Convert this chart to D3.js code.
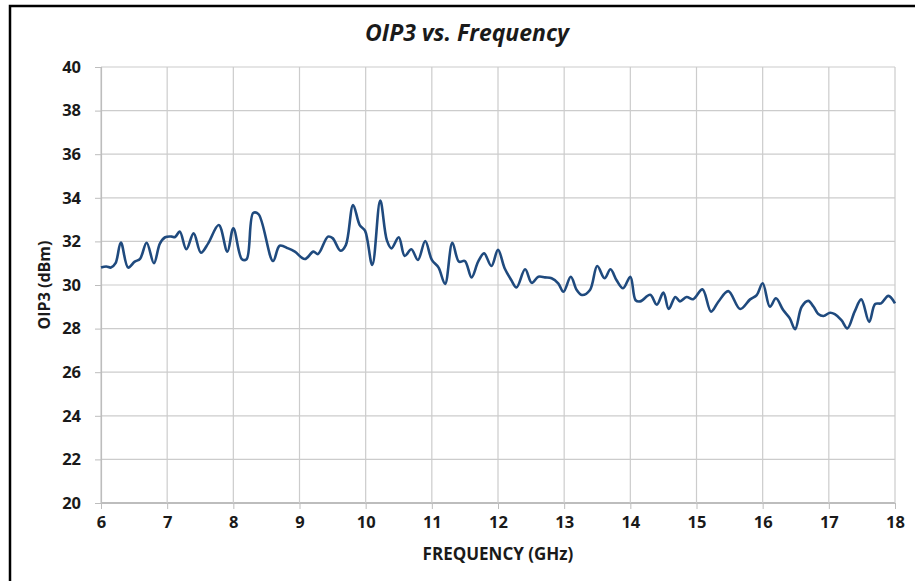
<!DOCTYPE html>
<html>
<head>
<meta charset="utf-8">
<script src="https://cdn.jsdelivr.net/npm/d3@7"></script>
<style>
  body { margin: 0; background: #fff; }
  svg { display: block; }
  .tick text { font-family: "Open Sans", sans-serif; font-weight: bold; font-size: 16.5px; fill: #1a1a1a; }
</style>
</head>
<body>
<div id="chart"></div>
<script>
var frequency = [
  6.00, 6.08, 6.15, 6.22, 6.30, 6.41, 6.51, 6.59, 6.69, 6.80, 6.89, 6.97,
  7.07, 7.12, 7.19, 7.29, 7.40, 7.51, 7.62, 7.78, 7.91, 8.00, 8.13, 8.20,
  8.30, 8.38, 8.60, 8.70, 8.83, 8.93, 9.08, 9.21, 9.28, 9.43, 9.50, 9.62,
  9.70, 9.81, 9.91, 9.99, 10.10, 10.22, 10.32, 10.39, 10.50, 10.59, 10.69,
  10.79, 10.90, 11.00, 11.10, 11.20, 11.31, 11.41, 11.50, 11.60, 11.70,
  11.79, 11.90, 12.00, 12.10, 12.20, 12.28, 12.41, 12.51, 12.61, 12.71,
  12.81, 12.91, 12.99, 13.10, 13.19, 13.27, 13.39, 13.50, 13.61, 13.70,
  13.79, 13.89, 14.00, 14.08, 14.15, 14.30, 14.40, 14.50, 14.58, 14.68,
  14.75, 14.85, 14.95, 15.09, 15.22, 15.33, 15.48, 15.66, 15.81, 15.91,
  16.00, 16.11, 16.20, 16.31, 16.41, 16.49, 16.59, 16.69, 16.77, 16.84,
  16.92, 17.02, 17.09, 17.19, 17.28, 17.39, 17.49, 17.61, 17.70, 17.79,
  17.90, 18.00
];
var oip3 = [
  30.80, 30.85, 30.80, 31.00, 31.95, 30.80, 31.07, 31.20, 31.94, 31.00, 31.90, 32.19,
  32.22, 32.20, 32.45, 31.64, 32.37, 31.48, 31.91, 32.75, 31.53, 32.60, 31.18, 31.18,
  33.30, 33.25, 31.10, 31.80, 31.68, 31.53, 31.19, 31.53, 31.42, 32.22, 32.15, 31.57,
  31.83, 33.67, 32.75, 32.49, 30.92, 33.87, 32.06, 31.68, 32.19, 31.33, 31.64,
  31.15, 32.02, 31.15, 30.81, 30.05, 31.94, 31.07, 31.10, 30.35, 31.07,
  31.45, 30.87, 31.61, 30.77, 30.23, 29.89, 30.72, 30.10, 30.38, 30.35,
  30.31, 30.08, 29.69, 30.38, 29.77, 29.54, 29.77, 30.87, 30.31, 30.72,
  30.23, 29.85, 30.38, 29.30, 29.25, 29.55, 29.10, 29.65, 28.90, 29.45,
  29.25, 29.45, 29.35, 29.80, 28.78, 29.23, 29.72, 28.90, 29.34, 29.54,
  30.08, 29.00, 29.39, 28.85, 28.47, 27.97, 29.00, 29.27, 29.00, 28.67,
  28.58, 28.73, 28.66, 28.39, 28.01, 28.78, 29.34, 28.31, 29.13, 29.16,
  29.50, 29.16
];
var xTicks = [6, 7, 8, 9, 10, 11, 12, 13, 14, 15, 16, 17, 18];
var yTicks = [20, 22, 24, 26, 28, 30, 32, 34, 36, 38, 40];

var width = 915;
var height = 581;
var margin = { top: 67, right: 20, bottom: 78, left: 101 };
var plotRight = 895;

var svg = d3
  .select("#chart")
  .append("svg")
  .attr("width", width)
  .attr("height", height);

// chart frame (runs off the right and bottom edges like the source)
svg
  .append("rect")
  .attr("x", 10)
  .attr("y", 6)
  .attr("width", 1000)
  .attr("height", 1000)
  .attr("fill", "none")
  .attr("stroke", "#000")
  .attr("stroke-width", 2.5);

var x = d3
  .scaleLinear()
  .domain([6, 18])
  .range([margin.left, plotRight]);
var y = d3
  .scaleLinear()
  .domain([20, 40])
  .range([height - margin.bottom, margin.top]);

// grid
svg
  .append("g")
  .selectAll("line")
  .data(yTicks)
  .enter()
  .append("line")
  .attr("x1", margin.left)
  .attr("x2", plotRight)
  .attr("y1", function(d) { return y(d); })
  .attr("y2", function(d) { return y(d); })
  .attr("stroke", function(d) { return d === 20 ? "#bdbdbd" : "#cccccc"; })
  .attr("stroke-width", function(d) { return d === 20 ? 2 : 1.2; });

svg
  .append("g")
  .selectAll("line")
  .data(xTicks)
  .enter()
  .append("line")
  .attr("x1", function(d) { return x(d); })
  .attr("x2", function(d) { return x(d); })
  .attr("y1", margin.top)
  .attr("y2", y(20))
  .attr("stroke", "#cccccc")
  .attr("stroke-width", 1.2);

var xAxis = svg
  .append("g")
  .attr("transform", "translate(0," + y(20) + ")")
  .call(
    d3.axisBottom(x)
      .tickValues(xTicks)
      .tickSize(6)
      .tickPadding(7)
      .tickFormat(d3.format("d"))
  );
xAxis.select(".domain").remove();
xAxis.selectAll(".tick line").attr("stroke", "#bdbdbd");

var yAxis = svg
  .append("g")
  .attr("transform", "translate(" + margin.left + ",0)")
  .call(
    d3.axisLeft(y)
      .tickValues(yTicks)
      .tickSize(6)
      .tickPadding(14)
      .tickFormat(d3.format("d"))
  );
yAxis.select(".domain").attr("stroke", "#bdbdbd").attr("stroke-width", 1.2);
yAxis.selectAll(".tick line").attr("stroke", "#bdbdbd");

var points = frequency.map(function(f, i) {
  return { f: f, v: oip3[i] };
});

var line = d3
  .line()
  .x(function(d) { return x(d.f); })
  .y(function(d) { return y(d.v); })
  .curve(d3.curveCatmullRom.alpha(0.5));

svg
  .append("path")
  .datum(points)
  .attr("d", line)
  .attr("fill", "none")
  .attr("stroke", "#1f4a7e")
  .attr("stroke-width", 2.6)
  .attr("stroke-linejoin", "round");

svg
  .append("text")
  .attr("x", 467)
  .attr("y", 41)
  .attr("text-anchor", "middle")
  .style("font-family", "Open Sans, sans-serif")
  .style("font-weight", "bold")
  .style("font-style", "italic")
  .style("font-size", "23px")
  .style("fill", "#1a1a1a")
  .text("OIP3 vs. Frequency");

svg
  .append("text")
  .attr("x", (margin.left + plotRight) / 2)
  .attr("y", 560)
  .attr("text-anchor", "middle")
  .style("font-family", "Open Sans, sans-serif")
  .style("font-weight", "bold")
  .style("font-size", "17px")
  .style("fill", "#1a1a1a")
  .text("FREQUENCY (GHz)");

svg
  .append("text")
  .attr("transform", "translate(50," + (margin.top + y(20)) / 2 + ") rotate(-90)")
  .attr("text-anchor", "middle")
  .style("font-family", "Open Sans, sans-serif")
  .style("font-weight", "bold")
  .style("font-size", "16px")
  .style("fill", "#1a1a1a")
  .text("OIP3 (dBm)");
</script>
</body>
</html>
